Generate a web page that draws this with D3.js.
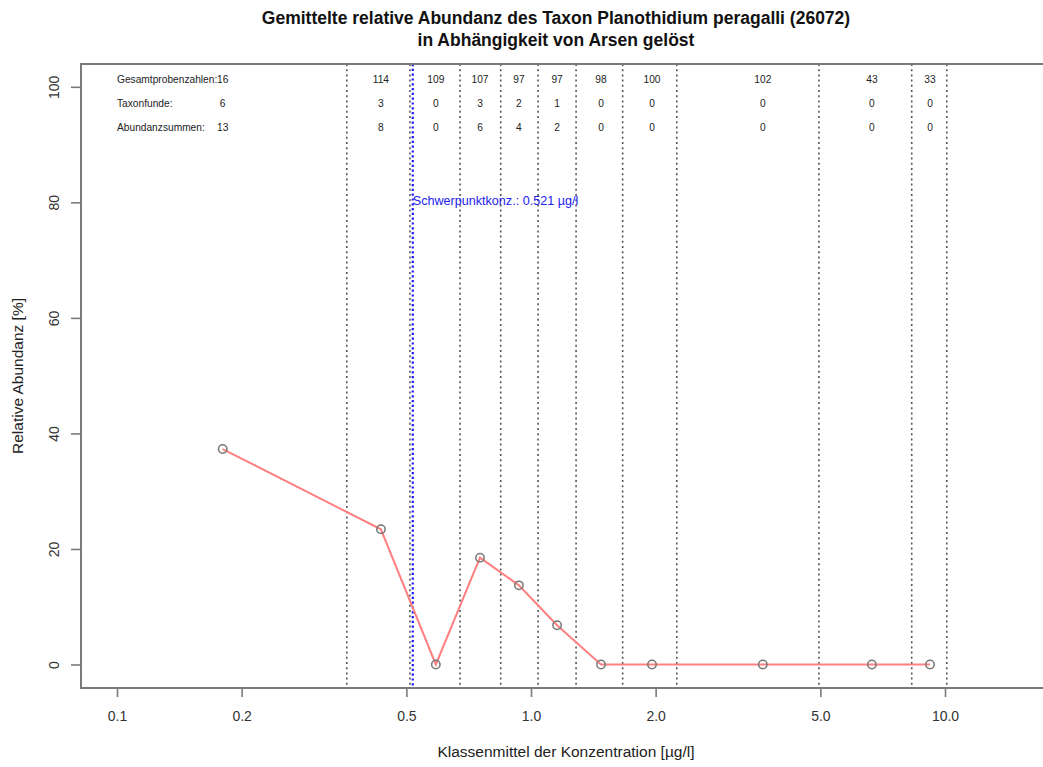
<!DOCTYPE html>
<html>
<head>
<meta charset="utf-8">
<script src="https://cdn.jsdelivr.net/npm/d3@7"></script>
<style>
  html, body { margin: 0; padding: 0; background: #fff; }
  svg { display: block; font-family: "Liberation Sans", Arial, sans-serif; }
</style>
</head>
<body>
<svg id="chart" width="1043" height="767"></svg>
<script>
// ---- data ----
const classMid   = [0.18, 0.434, 0.589, 0.753, 0.935, 1.156, 1.476, 1.96, 3.63, 6.66, 9.2];
const abundance  = [37.3, 23.4, 0, 18.5, 13.7, 6.8, 0, 0, 0, 0, 0];
const boundaries = [0.359, 0.510, 0.674, 0.845, 1.04, 1.285, 1.665, 2.25, 4.96, 8.31, 10.1];
const nSamples   = [16, 114, 109, 107, 97, 97, 98, 100, 102, 43, 33];
const nFinds     = [6, 3, 0, 3, 2, 1, 0, 0, 0, 0, 0];
const abundSums  = [13, 8, 0, 6, 4, 2, 0, 0, 0, 0, 0];
const rowLabels  = ["Gesamtprobenzahlen:", "Taxonfunde:", "Abundanzsummen:"];
const xTicks     = [0.1, 0.2, 0.5, 1.0, 2.0, 5.0, 10.0];
const yTicks     = [0, 20, 40, 60, 80, 100];
const centroid   = 0.521;
const titleLines = ["Gemittelte relative Abundanz des Taxon Planothidium peragalli (26072)",
                    "in Abhängigkeit von Arsen gelöst"];

// ---- layout ----
const svg = d3.select("#chart");
const frame = {left: 81, top: 64, bottom: 688, right: 1050};
const x = d3.scaleLog().domain([0.1, 10]).range([117, 945]);
const y = d3.scaleLinear().domain([0, 100]).range([664.5, 86.8]);
const axisGray = "#7a7a7a";

// title
svg.append("g").selectAll("text").data(titleLines).join("text")
  .attr("x", 556).attr("y", (d, i) => 24 + i * 22)
  .attr("text-anchor", "middle")
  .attr("font-size", 17.5).attr("font-weight", "bold").attr("fill", "#111")
  .text(d => d);

// class boundaries (dotted)
svg.append("g").selectAll("line").data(boundaries).join("line")
  .attr("x1", d => x(d)).attr("x2", d => x(d))
  .attr("y1", frame.top).attr("y2", frame.bottom)
  .attr("stroke", "#555").attr("stroke-width", 1.6)
  .attr("stroke-dasharray", "2,3.2");

// centroid line (blue dotted)
svg.append("line")
  .attr("x1", x(centroid) - 1).attr("x2", x(centroid) - 1)
  .attr("y1", frame.top).attr("y2", frame.bottom)
  .attr("stroke", "#1a1aff").attr("stroke-width", 2.2)
  .attr("stroke-dasharray", "2.2,2.6");
svg.append("text")
  .attr("x", x(centroid) - 1).attr("y", 205)
  .attr("font-size", 12.6).attr("fill", "#2222ee")
  .text("Schwerpunktkonz.: " + centroid + " µg/l");

// frame (top, left, bottom)
svg.append("path")
  .attr("d", `M${frame.right},${frame.top}H${frame.left}V${frame.bottom}H${frame.right}`)
  .attr("fill", "none").attr("stroke", axisGray).attr("stroke-width", 2);

// x axis
const xAxis = d3.axisBottom(x).tickValues(xTicks).tickFormat(d3.format(".1f")).tickSize(9).tickPadding(14);
const gx = svg.append("g").attr("transform", `translate(0,${frame.bottom})`).call(xAxis);
gx.select(".domain").remove();
gx.selectAll(".tick line").attr("stroke", axisGray).attr("stroke-width", 1.6);
gx.selectAll(".tick text").attr("font-size", 14).attr("fill", "#333")
  .attr("font-family", "'Liberation Sans', Arial, sans-serif");

// y axis
const yAxis = d3.axisLeft(y).tickValues(yTicks).tickSize(10).tickPadding(0);
const gy = svg.append("g").attr("transform", `translate(${frame.left},0)`).call(yAxis);
gy.select(".domain").remove();
gy.selectAll(".tick line").attr("stroke", axisGray).attr("stroke-width", 1.6);
gy.selectAll(".tick text")
  .attr("font-size", 14).attr("fill", "#333")
  .attr("font-family", "'Liberation Sans', Arial, sans-serif")
  .attr("text-anchor", "middle")
  .attr("x", 0).attr("dy", 0)
  .attr("transform", "translate(-27,0) rotate(-90)")
  .attr("dominant-baseline", "central");

// axis titles
svg.append("text").attr("x", 566).attr("y", 757).attr("text-anchor", "middle")
  .attr("font-size", 15.5).attr("fill", "#222")
  .text("Klassenmittel der Konzentration [µg/l]");
svg.append("text").attr("transform", "translate(23,376) rotate(-90)")
  .attr("text-anchor", "middle").attr("font-size", 15.5).attr("fill", "#222")
  .text("Relative Abundanz [%]");

// table at top
const rows = [nSamples, nFinds, abundSums];
const rowY = [83, 107, 131];
const tbl = svg.append("g").attr("font-size", 10.2).attr("fill", "#222");
rowLabels.forEach((lab, r) => {
  tbl.append("text").attr("x", x(0.1)).attr("y", rowY[r]).text(lab);
  tbl.selectAll(null).data(rows[r]).join("text")
    .attr("x", (d, i) => x(classMid[i])).attr("y", rowY[r])
    .attr("text-anchor", "middle").text(d => d);
});

// line + points
const line = d3.line().x((d, i) => x(classMid[i])).y(d => y(d));
svg.append("path").datum(abundance)
  .attr("d", line).attr("fill", "none")
  .attr("stroke", "#ff8080").attr("stroke-width", 2);
svg.append("g").selectAll("circle").data(abundance).join("circle")
  .attr("cx", (d, i) => x(classMid[i])).attr("cy", d => y(d)).attr("r", 4.2)
  .attr("fill", "none").attr("stroke", "#777").attr("stroke-width", 1.5);
</script>
</body>
</html>
